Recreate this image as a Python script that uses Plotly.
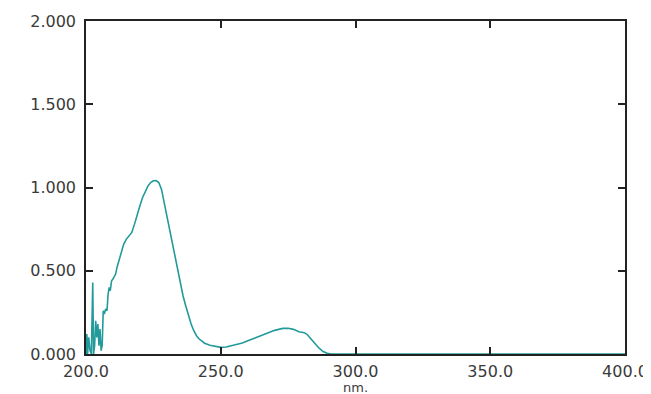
import plotly.graph_objects as go

wavelength = [200.0, 200.3, 200.6, 201.0, 201.5, 202.0, 202.5, 202.8, 203.2, 203.6,
              204.0, 204.4, 204.8, 205.2, 205.6, 206.0, 206.4, 206.8, 207.3, 207.8,
              208.2, 208.6, 209.0, 209.5, 210.0, 210.5, 211.0, 211.5, 212.0, 213.0,
              214.0, 215.0, 216.0, 217.0, 218.0, 219.0, 220.0, 221.0, 222.0, 223.0,
              224.0, 225.0, 226.0, 227.0, 228.0, 229.0, 230.0, 231.0, 232.0, 233.0,
              234.0, 235.0, 236.0, 237.0, 238.0, 239.0, 240.0, 241.0, 242.0, 243.0,
              244.0, 246.0, 248.0, 250.0, 252.0, 255.0, 258.0, 261.0, 264.0, 267.0,
              270.0, 273.0, 275.0, 277.0, 279.0, 281.0, 282.0, 283.5, 285.0, 286.5,
              288.0, 289.5, 291.0, 300.0, 320.0, 340.0, 342.0, 344.0, 346.0, 354.0,
              355.0, 356.0, 370.0, 400.0]
absorbance = [0.0, 0.12, 0.0, 0.10, 0.02, 0.0, 0.43, 0.0, 0.05, 0.20,
              0.10, 0.18, 0.05, 0.15, 0.02, 0.05, 0.26, 0.24, 0.27, 0.26,
              0.36, 0.40, 0.38, 0.44, 0.45, 0.47, 0.48, 0.52, 0.55, 0.60,
              0.66, 0.69, 0.71, 0.73, 0.78, 0.84, 0.89, 0.94, 0.98, 1.01,
              1.03, 1.04, 1.042, 1.03, 0.99, 0.91, 0.83, 0.74, 0.66, 0.57,
              0.49, 0.42, 0.35, 0.29, 0.23, 0.18, 0.14, 0.11, 0.09, 0.075,
              0.065, 0.052, 0.044, 0.040, 0.042, 0.052, 0.066, 0.085, 0.105, 0.125,
              0.142, 0.154, 0.155, 0.148, 0.134, 0.128, 0.118, 0.09, 0.06, 0.035,
              0.015, 0.004, 0.0, 0.0, 0.0, 0.0, 0.004, 0.002, 0.0, 0.0,
              0.003, 0.0, 0.0, 0.0]

x_ticks = [200, 250, 300, 350, 400]
x_tick_labels = ["200.0", "250.0", "300.0", "350.0", "400.0"]
y_ticks = [0, 0.5, 1.0, 1.5, 2.0]
y_tick_labels = ["0.000", "0.500", "1.000", "1.500", "2.000"]
x_title = "nm."

fig = go.Figure()
fig.add_trace(go.Scatter(x=wavelength, y=absorbance, mode="lines",
                         line=dict(color="#239a9a", width=1.6), showlegend=False))

tickfont = dict(family="DejaVu Sans", size=16, color="#3a3a3a")
fig.update_layout(
    width=643, height=386,
    margin=dict(l=78, r=26, t=13, b=40, autoexpand=False),
    paper_bgcolor="white", plot_bgcolor="white",
    xaxis=dict(range=[200, 400], tickvals=x_ticks, ticktext=x_tick_labels,
               showgrid=False, zeroline=False, showline=True, linecolor="#222222",
               linewidth=1.5, mirror="ticks", ticks="inside", ticklen=7,
               tickcolor="#222222", tickwidth=1.5, tickfont=tickfont, automargin=False,
               ticklabelstandoff=2),
    yaxis=dict(range=[0, 2], tickvals=y_ticks, ticktext=y_tick_labels,
               showgrid=False, zeroline=False, showline=True, linecolor="#222222",
               linewidth=1.5, mirror="ticks", ticks="inside", ticklen=7,
               tickcolor="#222222", tickwidth=1.5, tickfont=tickfont, automargin=False,
               ticklabelstandoff=5),
    annotations=[dict(text=x_title, xref="paper", yref="paper", x=0.5, y=0,
                      xanchor="center", yanchor="top", yshift=-24, showarrow=False,
                      font=dict(family="DejaVu Sans", size=13, color="#3a3a3a"))],
)
fig.write_html("out.html")
